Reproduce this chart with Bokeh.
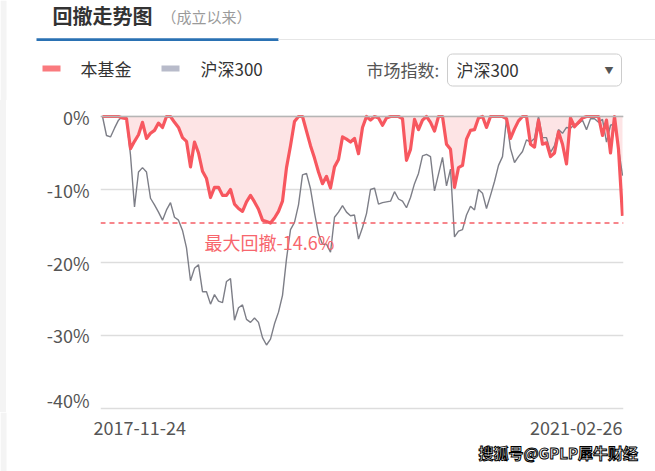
from bokeh.plotting import figure
from bokeh.models import (Range1d, FixedTicker, PrintfTickFormatter, Span, Label,
                          BoxAnnotation)
from bokeh.layouts import column
from bokeh.embed import file_html
from bokeh.resources import INLINE

# ---------------- data ----------------
date_labels = ["2017-11-24", "2021-02-26"]
y_ticks = [0, -10, -20, -30, -40]

fund = [0, 0, 0, 0, 0, -0.2, -0.3, -4.4, -3.4, -2.5,
        -0.8, -3.0, -2.3, -1.9, -0.9, -1.5, 0, 0, -0.8, -1.5,
        -2.9, -3.4, -6.9, -3.5, -5.0, -7.5, -8.5, -11.1, -9.7, -9.7,
        -10.8, -10.8, -10.0, -12.0, -12.6, -13.0, -11.7, -10.8, -11.7, -12.7,
        -14.2, -14.4, -14.6, -13.9, -13.0, -11.6, -7.0, -4.0, -0.7, 0,
        0, -2.0, -4.0, -5.7, -7.6, -9.2, -8.2, -9.8, -6.9, -5.9,
        -2.8, -3.1, -3.5, -3.0, -5.1, -1.5, 0, -0.5, 0, -0.2,
        -1.2, -0.2, 0, 0, 0, -0.3, -6.0, -4.5, -0.4, -1.8,
        -0.5, 0, -0.8, -2.0, 0, 0, -3.8, -4.5, -9.7, -7.0,
        -6.7, -3.1, -1.9, -1.8, -0.2, 0, -1.5, 0, 0, 0,
        0, -0.3, -3.0, -1.7, -0.6, 0, 0, -3.8, -4.2, -0.5,
        -3.8, -3.6, -5.5, -5.0, -2.1, -3.8, -6.5, -0.2, -1.4, -0.8,
        -0.2, 0, 0, 0, 0, -2.6, -0.5, -5.0, 0, -4.5,
        -13.6]

hs300 = [0, -2.6, -2.8, -1.6, -0.5, 0, -0.3, -5.3, -12.4, -7.6,
         -7.0, -7.6, -11.2, -12.1, -13.1, -14.2, -12.8, -11.8, -13.8, -14.2,
         -15.6, -18.0, -22.5, -20.8, -20.3, -24.0, -24.0, -25.7, -24.4, -25.3,
         -25.5, -22.6, -22.2, -27.9, -26.2, -25.8, -27.8, -28.2, -27.6, -28.2,
         -30.3, -31.3, -30.5, -28.4, -26.8, -24.5, -19.5, -15.5, -14.5, -12.1,
         -8.0, -7.8, -9.9, -13.2, -16.1, -17.5, -17.5, -18.6, -13.8, -13.1,
         -12.2, -13.1, -13.6, -13.5, -16.8, -15.2, -13.3, -10.0, -9.8, -12.0,
         -11.8, -11.7, -11.6, -10.3, -11.3, -11.6, -12.5, -11.1, -9.2, -7.8,
         -5.4, -5.2, -5.5, -10.2, -7.9, -5.6, -9.5, -7.2, -16.5, -15.7,
         -15.5, -13.5, -12.3, -12.8, -10.0, -10.5, -12.6, -10.8, -8.9, -6.7,
         -5.5, -0.4, -4.4, -6.3, -5.5, -4.8, -3.2, -3.5, -3.0, 0,
         -2.9, -2.9, -4.9, -4.0, -1.8, -2.3, -1.5, -1.6, -1.1, -1.0,
         -0.5, -1.8, -0.3, -0.3, -0.8, -0.4, -3.5, -1.2, -1.0, -4.3,
         -8.1]

idx = list(range(len(fund)))
mdd = min(fund)

FONT = "Noto Sans CJK SC"
RED = "#f7575f"
STRIP = "#f4f4f4"


def bare(height, x_range, y_range):
    f = figure(width=655, height=height, x_range=x_range, y_range=y_range,
               min_border=0, min_border_left=0, min_border_right=0,
               min_border_top=0, min_border_bottom=0, toolbar_location=None,
               output_backend="svg", x_axis_location=None, y_axis_location=None)
    f.grid.visible = False
    f.outline_line_color = None
    f.background_fill_color = "white"
    f.border_fill_color = "white"
    f.frame_align = False
    return f


def add_label(f, x, y, text, size, color, bold=False, align="left", **kw):
    f.add_layout(Label(x=x, y=y, text=text, text_font=FONT, text_font_size=size,
                       text_color=color, text_baseline="middle", text_align=align,
                       text_font_style="bold" if bold else "normal", **kw))


# ---------------- header ----------------
h = bare(100, Range1d(0, 655), Range1d(100, 0))
h.quad(left=0, right=6, top=0, bottom=100, fill_color=STRIP, line_color=None)
h.quad(left=36, right=278, top=37.8, bottom=40.6, fill_color="#2a71b3", line_color=None)
h.quad(left=278, right=655, top=38.5, bottom=39.6, fill_color="#e6e6e6", line_color=None)
h.quad(left=42, right=60, top=65, bottom=71, fill_color="#fa7a7e", line_color=None)
h.quad(left=161, right=179, top=65, bottom=71, fill_color="#b8bbca", line_color=None)
h.add_layout(BoxAnnotation(left=447, right=621, top=53.5, bottom=85.5,
                           fill_color="white", fill_alpha=1, line_color="#cccccc",
                           line_width=1, border_radius=5, line_alpha=1))
add_label(h, 52, 15, "回撤走势图", "20px", "#333333", bold=True)
add_label(h, 161, 16, "（成立以来）", "15px", "#9a9a9a")
add_label(h, 80, 68, "本基金", "17px", "#333333")
add_label(h, 200, 68, "沪深300", "17px", "#333333")
add_label(h, 366, 69, "市场指数:", "17px", "#555555")
add_label(h, 456, 69, "沪深300", "17px", "#333333")
add_label(h, 608.5, 69.5, "▼", "9px", "#555555", align="center")

# ---------------- main chart ----------------
y_lo, y_hi = -40.548, 1.096
p = figure(width=655, height=312, x_range=Range1d(-0.5, 130.25),
           y_range=Range1d(y_lo, y_hi), min_border_left=100, min_border_right=32,
           min_border_top=8, min_border_bottom=0, toolbar_location=None,
           output_backend="svg", x_axis_location=None)
p.frame_align = False
p.outline_line_color = None
p.border_fill_color = None
p.background_fill_color = "white"
p.styles = {"background": "linear-gradient(90deg, %s 0px, %s 6px, #ffffff 6px)" % (STRIP, STRIP)}
p.xgrid.visible = False
p.ygrid.grid_line_color = "#dddddd"
p.ygrid.grid_line_width = 1.5
p.yaxis.ticker = FixedTicker(ticks=y_ticks)
p.yaxis.formatter = PrintfTickFormatter(format="%d%%")
p.yaxis.axis_line_color = None
p.yaxis.major_tick_line_color = None
p.yaxis.minor_tick_line_color = None
p.yaxis.major_tick_out = 0
p.yaxis.major_label_standoff = 11
p.yaxis.major_label_text_font = FONT
p.yaxis.major_label_text_font_size = "18px"
p.yaxis.major_label_text_color = "#555555"

p.varea(x=idx, y1=0, y2=fund, fill_color="#fde4e5")
p.add_layout(Span(location=0, dimension="width", line_color="#b5b5b5", line_width=1.5))
p.line(idx, hs300, line_color="#7d7e87", line_width=1.4)
p.line(idx, fund, line_color=RED, line_width=3.2, line_join="round")
p.add_layout(Span(location=mdd, dimension="width", line_color="#f55e66",
                  line_width=1.5, line_dash="5 4"))
p.add_layout(Label(x=25.5, y=mdd, y_offset=-6, text=f"最大回撤{mdd:.1f}%",
                   text_font=FONT, text_font_size="18px", text_color="#f7666d",
                   text_baseline="top"))

# ---------------- footer (date labels, same index scale as main) ----------------
f = bare(59, Range1d(-25.5, 138.25), Range1d(59, 0))
f.quad(left=-25.5, right=-24.0, top=0, bottom=59, fill_color=STRIP, line_color=None)
add_label(f, idx[0], 15, date_labels[0], "18px", "#555555", x_offset=-9)
add_label(f, idx[-1], 15, date_labels[1], "18px", "#555555", align="right")
f.add_layout(Label(x=478, y=19, x_units="screen", y_units="screen",
                   text="搜狐号@GPLP犀牛财经", text_font=FONT, text_font_size="15px",
                   text_font_style="bold", text_color="white",
                   text_outline_color="black", text_baseline="middle"))

layout = column(h, p, f, spacing=0)
open("out.html", "w").write(file_html(layout, INLINE))
